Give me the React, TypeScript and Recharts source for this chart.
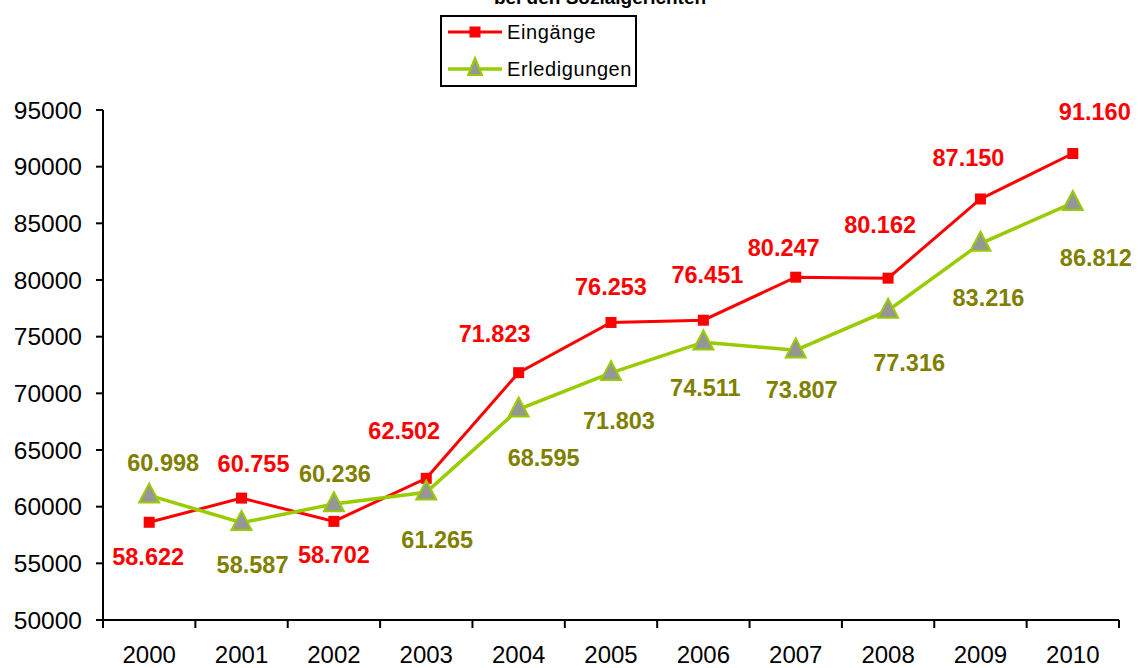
import React from 'react';
import { LineChart, Line, XAxis, YAxis, Legend, LabelList } from 'recharts';

const years = [2000, 2001, 2002, 2003, 2004, 2005, 2006, 2007, 2008, 2009, 2010];
const eingaenge = [58622, 60755, 58702, 62502, 71823, 76253, 76451, 80247, 80162, 87150, 91160];
const erledigungen = [60998, 58587, 60236, 61265, 68595, 71803, 74511, 73807, 77316, 83216, 86812];
const yTicks = [50000, 55000, 60000, 65000, 70000, 75000, 80000, 85000, 90000, 95000];
const boundaryTicks = [1999.5, 2000.5, 2001.5, 2002.5, 2003.5, 2004.5, 2005.5, 2006.5, 2007.5, 2008.5, 2009.5, 2010.5];

// label placement (style only)
const eingDx = [-1, 12, 0, -22, -24, 0, 4, -12, -8, -12, 22];
const eingDy = [35, -34, 34, -47, -39, -35, -45, -29, -53, -41, -42];
const erlDx = [14, 11, 1, 11, 25, 8, 2, 6, 21, 8, 23];
const erlDy = [-32, 42, -30, 48, 49, 48, 46, 40, 53, 54, 55];

const data = years.map((y, i) => ({ year: y, eingaenge: eingaenge[i], erledigungen: erledigungen[i] }));

const FONT = '"Liberation Sans", Arial, sans-serif';
const RED = '#FF0000';
const GREEN = '#99CC00';
const OLIVE = '#808000';
const GRAY = '#969696';

const fmt = (v: number) => {
  const s = String(Math.round(v));
  return s.replace(/\B(?=(\d{3})+(?!\d))/g, '.');
};

const makeLabel = (dxs: number[], dys: number[], color: string) => (props: any) => {
  const { x, y, value, index } = props;
  return (
    <text
      key={`l-${color}-${index}`}
      x={Number(x) + dxs[index]}
      y={Number(y) + dys[index]}
      textAnchor="middle"
      dominantBaseline="central"
      fill={color}
      fontFamily={FONT}
      fontWeight="bold"
      fontSize={23.5}
    >
      {fmt(Number(value))}
    </text>
  );
};

const SquareDot = (props: any) => {
  const { cx, cy, index } = props;
  if (cx == null || cy == null) return <g key={`sq-${index}`} />;
  return <rect key={`sq-${index}`} x={cx - 5.5} y={cy - 5.5} width={11} height={11} fill={RED} />;
};

const TriDot = (props: any) => {
  const { cx, cy, index } = props;
  if (cx == null || cy == null) return <g key={`tr-${index}`} />;
  const h = 19;
  const w = 20;
  const pts = `${cx},${cy - h * 0.62} ${cx - w / 2},${cy + h * 0.38} ${cx + w / 2},${cy + h * 0.38}`;
  return <polygon key={`tr-${index}`} points={pts} fill={GRAY} stroke={GREEN} strokeWidth={2} />;
};

const renderLegend = () => (
  <div
    style={{
      position: 'relative',
      width: 197,
      height: 72,
      border: '2px solid #000',
      boxSizing: 'border-box',
      background: '#fff',
      fontFamily: FONT,
    }}
  >
    <svg width={197} height={72} style={{ position: 'absolute', left: -2, top: -2 }}>
      <line x1={8} y1={17} x2={62} y2={17} stroke={RED} strokeWidth={3} />
      <rect x={29.5} y={11.5} width={11} height={11} fill={RED} />
      <line x1={8} y1={54} x2={62} y2={54} stroke={GREEN} strokeWidth={3.5} />
      <polygon points={`35,${54 - 11} ${28},${54 + 6} ${42},${54 + 6}`} fill={GRAY} stroke={GREEN} strokeWidth={2} />
      <text x={67} y={17} dominantBaseline="central" fontFamily={FONT} fontSize={20} letterSpacing={0.6} fill="#000">
        Eingänge
      </text>
      <text x={67} y={54} dominantBaseline="central" fontFamily={FONT} fontSize={20} letterSpacing={0.6} fill="#000">
        Erledigungen
      </text>
    </svg>
  </div>
);

export default function App() {
  return (
    <div style={{ position: 'absolute', left: 0, top: 0, width: 1138, height: 668, background: '#fff' }}>
      <svg width={1138} height={20} style={{ position: 'absolute', left: 0, top: 0 }}>
        <text x={600} y={4} textAnchor="middle" fontFamily={FONT} fontWeight="bold" fontSize={19} fill="#000">
          bei den Sozialgerichten
        </text>
      </svg>
      <LineChart
        width={1138}
        height={668}
        data={data}
        margin={{ top: 110, right: 19, left: 0, bottom: 0 }}
        style={{ fontFamily: FONT }}
      >
        <XAxis
          xAxisId="a_ticks"
          type="number"
          dataKey="year"
          domain={[1999.5, 2010.5]}
          ticks={boundaryTicks}
          allowDataOverflow
          height={1}
          tickSize={8}
          tickFormatter={() => ''}
          axisLine={{ stroke: '#000', strokeWidth: 2 }}
          tickLine={{ stroke: '#000', strokeWidth: 2 }}
        />
        <XAxis
          xAxisId="b_labels"
          type="number"
          dataKey="year"
          domain={[1999.5, 2010.5]}
          ticks={years}
          allowDataOverflow
          height={47}
          tickSize={0}
          tickMargin={25}
          axisLine={false}
          tickLine={false}
          tick={{ fill: '#000', fontSize: 24, fontFamily: FONT }}
        />
        <YAxis
          type="number"
          domain={[50000, 95000]}
          ticks={yTicks}
          width={103}
          tickSize={7}
          tickMargin={14}
          interval={0}
          axisLine={{ stroke: '#000', strokeWidth: 2 }}
          tickLine={{ stroke: '#000', strokeWidth: 2 }}
          tick={{ fill: '#000', fontSize: 24.5, fontFamily: FONT }}
        />
        <Legend
          verticalAlign="middle"
          align="center"
          layout="horizontal"
          content={renderLegend}
          wrapperStyle={{ position: 'absolute', left: 440, top: 15, width: 197, height: 72 }}
        />
        <Line
          xAxisId="b_labels"
          type="linear"
          dataKey="eingaenge"
          name="Eingänge"
          stroke={RED}
          strokeWidth={3}
          dot={SquareDot}
          activeDot={false}
          isAnimationActive={false}
        >
          <LabelList dataKey="eingaenge" content={makeLabel(eingDx, eingDy, RED)} />
        </Line>
        <Line
          xAxisId="b_labels"
          type="linear"
          dataKey="erledigungen"
          name="Erledigungen"
          stroke={GREEN}
          strokeWidth={3.5}
          dot={TriDot}
          activeDot={false}
          isAnimationActive={false}
        >
          <LabelList dataKey="erledigungen" content={makeLabel(erlDx, erlDy, OLIVE)} />
        </Line>
      </LineChart>
    </div>
  );
}
